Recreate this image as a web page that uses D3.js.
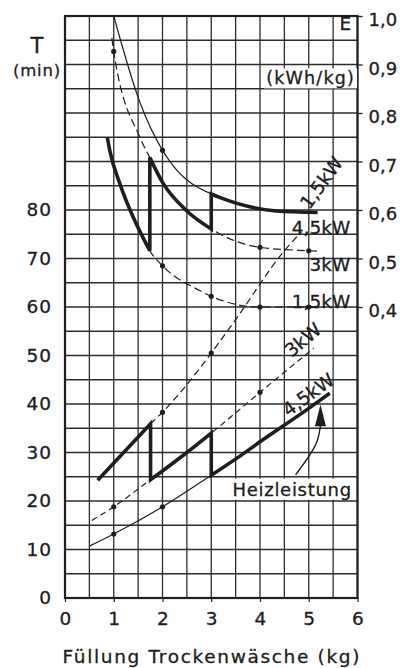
<!DOCTYPE html>
<html><head><meta charset="utf-8">
<script src="https://cdn.jsdelivr.net/npm/d3@7"></script>
<style>
body{margin:0;background:#fff}
svg{display:block}
text{font-family:"DejaVu Sans",sans-serif;fill:#1c1c1c;stroke:#1c1c1c;stroke-width:0.3px}
</style></head>
<body><svg id="c" width="400" height="668"></svg>
<script>
// ---- data ----
const loadTicks = [0,1,2,3,4,5,6];
const timeTicks = [0,10,20,30,40,50,60,70,80];
const energyTicks = [0.4,0.5,0.6,0.7,0.8,0.9,1.0];
const energyTickLabels = ["0,4","0,5","0,6","0,7","0,8","0,9","1,0"];

// energy per kg (kWh/kg) vs load (kg)
const energy45 = [[1.0,1.0],[1.54,0.821],[2.0,0.723],[2.22,0.691],[3.0,0.633],[3.17,0.626],[4.34,0.598],[5.18,0.595]];
const energy3  = [[0.96,0.955],[1.0,0.927],[1.54,0.749],[1.74,0.708],[2.0,0.657],[2.5,0.598],[3.0,0.561],[3.17,0.551],[4.0,0.523],[5.0,0.516],[5.22,0.515]];
const energy15 = [[0.87,0.749],[0.92,0.722],[1.13,0.653],[1.40,0.585],[1.60,0.543],[1.74,0.516],[2.0,0.485],[2.76,0.434],[3.0,0.422],[4.0,0.40],[5.0,0.40],[5.2,0.398]];

// drying time (min) vs load (kg)
const time45 = [[0.5,10.7],[1.0,13.2],[2.0,18.8],[3.0,25.3],[3.58,29.2],[4.0,32.2],[5.0,39.1],[5.43,42.2]];
const time3  = [[0.55,16.0],[1.0,18.8],[1.755,24.4],[2.0,26.2],[2.5,30.0],[3.0,34.0],[4.0,42.4],[5.1,51.5]];
const time15 = [[0.67,24.3],[1.755,35.9],[2.0,38.3],[2.76,47.3],[3.0,50.5],[3.5,57.4],[4.5,71.6],[4.85,75.5]];

// measured points (dots) at these loads
const dotsE45 = [2], dotsE3 = [1,4,5], dotsE15 = [2,3,4,5];
const dotsT45 = [1,2], dotsT3 = [1,4], dotsT15 = [2,3];

// switching program (heating power steps): [curve, from kg, to kg]
const thickEnergy = [[energy15,0.87,1.74],[energy3,1.74,3.0],[energy45,3.0,5.18]];
const thickTime   = [[time15,0.67,1.755],[time3,1.755,3.0],[time45,3.0,5.43]];

// ---- scales ----
const svg = d3.select("#c");
const x  = d3.scaleLinear().domain([0,6]).range([65,357.5]);
const yT = d3.scaleLinear().domain([0,120]).range([598,16]);
const yE = d3.scaleLinear().domain([0,1]).range([yT(20),yT(120)]);

const ink = "#1e1e1e";

// grid
const g = svg.append("g");
g.selectAll(".vx").data(d3.range(0,6.01,0.5)).join("line")
  .attr("x1",d=>x(d)).attr("x2",d=>x(d)).attr("y1",yT(0)).attr("y2",yT(120))
  .attr("stroke","#2c2c2c").attr("stroke-width",1.3);
g.selectAll(".hy").data(d3.range(0,120.01,5)).join("line")
  .attr("y1",d=>yT(d)).attr("y2",d=>yT(d)).attr("x1",x(0)).attr("x2",x(6))
  .attr("stroke","#2c2c2c").attr("stroke-width",1.3);
// frame
g.append("rect").attr("x",x(0)).attr("y",yT(120)).attr("width",x(6)-x(0)).attr("height",yT(0)-yT(120))
  .attr("fill","none").attr("stroke",ink).attr("stroke-width",2.2);

// bottom axis
const xAxis = d3.axisBottom(x).tickValues(loadTicks).tickSize(4).tickPadding(10).tickFormat(d3.format("d"));
const ax = svg.append("g").attr("transform",`translate(0,${yT(0)})`).call(xAxis);
ax.select(".domain").remove();
ax.selectAll("line").attr("stroke",ink).attr("stroke-width",1.2);
ax.selectAll("text").attr("font-size",18.5).attr("fill",ink).style("font-family","DejaVu Sans");

// left axis
const yAxis = d3.axisLeft(yT).tickValues(timeTicks).tickSize(0).tickPadding(13).tickFormat(d3.format("d"));
const ay = svg.append("g").attr("transform",`translate(${x(0)},0)`).call(yAxis);
ay.select(".domain").remove();
ay.selectAll("text").attr("font-size",18.5).attr("fill",ink).attr("letter-spacing",1).style("font-family","DejaVu Sans");

// right axis
const eAxis = d3.axisRight(yE).tickValues(energyTicks).tickSize(5).tickPadding(6)
  .tickFormat((d,i)=>energyTickLabels[i]);
const ae = svg.append("g").attr("transform",`translate(${x(6)},0)`).call(eAxis);
ae.select(".domain").remove();
ae.selectAll("line").attr("stroke",ink).attr("stroke-width",1.3);
ae.selectAll("text").attr("font-size",18).attr("fill",ink).attr("dy","0.55em").style("font-family","DejaVu Sans");

// curves
const lineE = d3.line().x(d=>x(d[0])).y(d=>yE(d[1])).curve(d3.curveMonotoneX);
const lineT = d3.line().x(d=>x(d[0])).y(d=>yT(d[1])).curve(d3.curveMonotoneX);

const curves = [
  {d:energy45, gen:lineE, dash:null},
  {d:energy3,  gen:lineE, dash:"8,4"},
  {d:energy15, gen:lineE, dash:"8,4"},
  {d:time45,   gen:lineT, dash:null},
  {d:time3,    gen:lineT, dash:"6,4"},
  {d:time15,   gen:lineT, dash:"7,4"}
];
curves.forEach(c=>{
  svg.append("path").attr("d",c.gen(c.d)).attr("fill","none")
    .attr("stroke",ink).attr("stroke-width",1.2)
    .attr("stroke-dasharray",c.dash);
});

// thick switching paths
function thickPath(segs, gen){
  return segs.map((s,i)=>{
    const pts = s[0].filter(p=>p[0]>=s[1]-1e-9 && p[0]<=s[2]+1e-9);
    const p = gen(pts);
    return i ? p.replace(/^M/,"L") : p;
  }).join("");
}
svg.append("path").attr("d",thickPath(thickEnergy,lineE)).attr("fill","none")
  .attr("stroke",ink).attr("stroke-width",3.6).attr("stroke-linejoin","miter").attr("stroke-linecap","butt");
svg.append("path").attr("d",thickPath(thickTime,lineT)).attr("fill","none")
  .attr("stroke",ink).attr("stroke-width",3.6).attr("stroke-linejoin","miter").attr("stroke-linecap","butt");

// dots
function dots(curve, xs, ys){
  const pts = curve.filter(p=>xs.includes(p[0]));
  svg.selectAll(null).data(pts).join("circle")
    .attr("cx",d=>x(d[0])).attr("cy",d=>ys(d[1])).attr("r",2.6).attr("fill",ink);
}
dots(energy45,dotsE45,yE); dots(energy3,dotsE3,yE); dots(energy15,dotsE15,yE);
dots(time45,dotsT45,yT); dots(time3,dotsT3,yT); dots(time15,dotsT15,yT);

// helper for text with white background
function bgText(t, px, py, size, ls, anchor){
  const grp = svg.append("g");
  const rect = grp.append("rect").attr("fill","#fff").attr("stroke","none");
  const tx = grp.append("text").attr("x",px).attr("y",py).attr("font-size",size)
    .attr("letter-spacing",ls).attr("text-anchor",anchor||"start").text(t);
  const b = tx.node().getBBox();
  rect.attr("x",b.x-2).attr("y",b.y).attr("width",b.width+4).attr("height",b.height);
  return tx;
}

// power labels on energy curves (horizontal)
svg.append("text").attr("x",x(5.85)).attr("y",yE(0.55)).attr("font-size",18.5).attr("text-anchor","end").text("4,5kW");
svg.append("text").attr("x",x(5.85)).attr("y",yE(0.475)).attr("font-size",18.5).attr("text-anchor","end").text("3kW");
svg.append("text").attr("x",x(5.85)).attr("y",yE(0.397)).attr("font-size",18.5).attr("text-anchor","end").text("1,5kW");

// power labels on time curves (rotated)
function rotLabel(t, px, py, ang){
  svg.append("text").attr("transform",`translate(${px},${py}) rotate(${ang})`)
    .attr("text-anchor","middle").attr("dy","0.35em").attr("font-size",18.5).text(t);
}
rotLabel("1,5kW", x(5.26), yT(85.6), -54);
rotLabel("3kW",   x(4.88), yT(53.2), -40);
rotLabel("4,5kW", x(4.99), yT(41.9), -36);

// axis titles
svg.append("text").attr("x",37).attr("y",yT(112.4)).attr("font-size",21).attr("text-anchor","middle").text("T");
svg.append("text").attr("x",37).attr("y",yT(107.6)).attr("font-size",16.5).attr("letter-spacing",0.8).attr("text-anchor","middle").text("(min)");
svg.append("text").attr("x",x(5.75)).attr("y",yE(0.971)).attr("font-size",18.5).attr("text-anchor","middle").text("E");
bgText("(kWh/kg)", x(5.95), yE(0.859), 17.5, 1.2, "end");

// Heizleistung + arrow
bgText("Heizleistung", x(4.66), yT(21.1), 18, 0.7, "middle");
const arrowLine = [[4.73,25.4],[5.05,29.8],[5.2,32.6],[5.24,35.6]];
svg.append("path").attr("d",d3.line().x(d=>x(d[0])).y(d=>yT(d[1])).curve(d3.curveBasis)(arrowLine))
  .attr("fill","none").attr("stroke",ink).attr("stroke-width",1.4);
const tip=[x(5.24),yT(39.9)], base=yT(35.4);
svg.append("path").attr("d",`M${tip[0]},${tip[1]}L${tip[0]-5.5},${base}L${tip[0]+5.5},${base}Z`).attr("fill",ink);

svg.append("text").attr("x",211).attr("y",663).attr("font-size",18.5).attr("text-anchor","middle")
  .attr("textLength",297).attr("lengthAdjust","spacing").text("Füllung  Trockenwäsche  (kg)");
</script></body></html>
